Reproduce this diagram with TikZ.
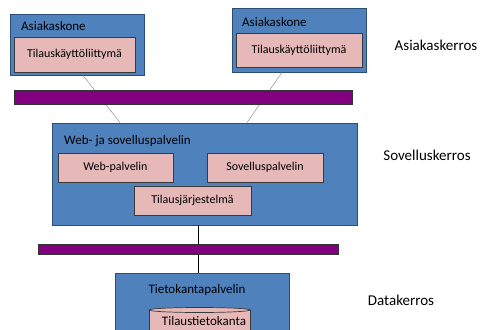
\documentclass[tikz,border=0pt]{standalone}
\usepackage{fontspec}
\setmainfont{Carlito}
\definecolor{tierblue}{HTML}{4F81BD}
\definecolor{tieredge}{HTML}{2C4D75}
\definecolor{partpink}{HTML}{E6B9B8}
\definecolor{partedge}{HTML}{3A3A3A}
\definecolor{busviolet}{HTML}{800080}
\tikzset{
  tier/.style={draw=tieredge, fill=tierblue, line width=0.8pt, inner sep=0pt},
  tiertitle/.style={anchor=west, inner sep=0pt, font=\fontsize{13}{15}\selectfont},
  part/.style={draw=partedge, fill=partpink, line width=0.7pt, inner sep=0pt, font=\fontsize{12}{14}\selectfont},
  bus/.style={draw=black!80, fill=busviolet, line width=0.6pt, inner sep=0pt},
  layer/.style={inner sep=0pt, font=\fontsize{15}{17}\selectfont}
}
\begin{document}
\begin{tikzpicture}[x=1pt, y=-1pt]
        \useasboundingbox (0,0) rectangle (481,329);
        \clip (0,0) rectangle (481,329);
        % asiakaskerros
        \node[tier, minimum width=134, minimum height=61] (cl1) at (77,44.5) {};
        \node[tiertitle] (cl1t) at (21,26) {Asiakaskone};
        \node[part, minimum width=121, minimum height=35] (ui1) at (74.5,54.5) {Tilauskäyttöliittymä};
        \node[tier, minimum width=134, minimum height=64] (cl2) at (299,40) {};
        \node[tiertitle] (cl2t) at (242,22) {Asiakaskone};
        \node[part, minimum width=126, minimum height=34] (ui2) at (299,50) {Tilauskäyttöliittymä};
        % sovelluskerros
        \node[tier, minimum width=305, minimum height=102] (srv) at (204.5,174) {};
        \node[tiertitle] (srvt) at (64,141) {Web- ja sovelluspalvelin};
        \node[part, minimum width=115, minimum height=29] (web) at (115.5,167.5) {Web-palvelin};
        \node[part, minimum width=116, minimum height=29] (sov) at (265,167.5) {Sovelluspalvelin};
        \node[part, minimum width=117, minimum height=29] (tj) at (192.5,200.5) {Tilausjärjestelmä};
        % datakerros
        \node[tier, minimum width=174, minimum height=70] (db) at (202,308) {};
        \node[tiertitle, anchor=center] (dbt) at (197,290) {Tietokantapalvelin};
        \fill[partpink] (149,310) rectangle (250,335);
        \draw[partedge, line width=0.7pt] (149,310) -- (149,335) (250,310) -- (250,335);
        \draw[partedge, fill=partpink, line width=0.7pt] (199.5,310) ellipse (50.5 and 2.5);
        \node[inner sep=0pt, font=\fontsize{13}{15}\selectfont] (dbk) at (204,321) {Tilaustietokanta};
        % yhteydet
        \draw[gray] ([xshift=6]cl1.south) -- ([xshift=-84.5]srv.north);
        \draw[gray] ([xshift=-17]cl2.south) -- ([xshift=42.5]srv.north);
        \draw[black] ([xshift=-6.5]srv.south) -- ([xshift=-6.5]srv.south |- db.north);
        \node[bus, minimum width=338, minimum height=14] (bus1) at (183,97) {};
        \node[bus, minimum width=300, minimum height=10] (bus2) at (188,249) {};
        % kerrokset
        \node[layer] (lk1) at (436,45) {Asiakaskerros};
        \node[layer] (lk2) at (427,155) {Sovelluskerros};
        \node[layer] (lk3) at (401,300) {Datakerros};
    \end{tikzpicture}
\end{document}
